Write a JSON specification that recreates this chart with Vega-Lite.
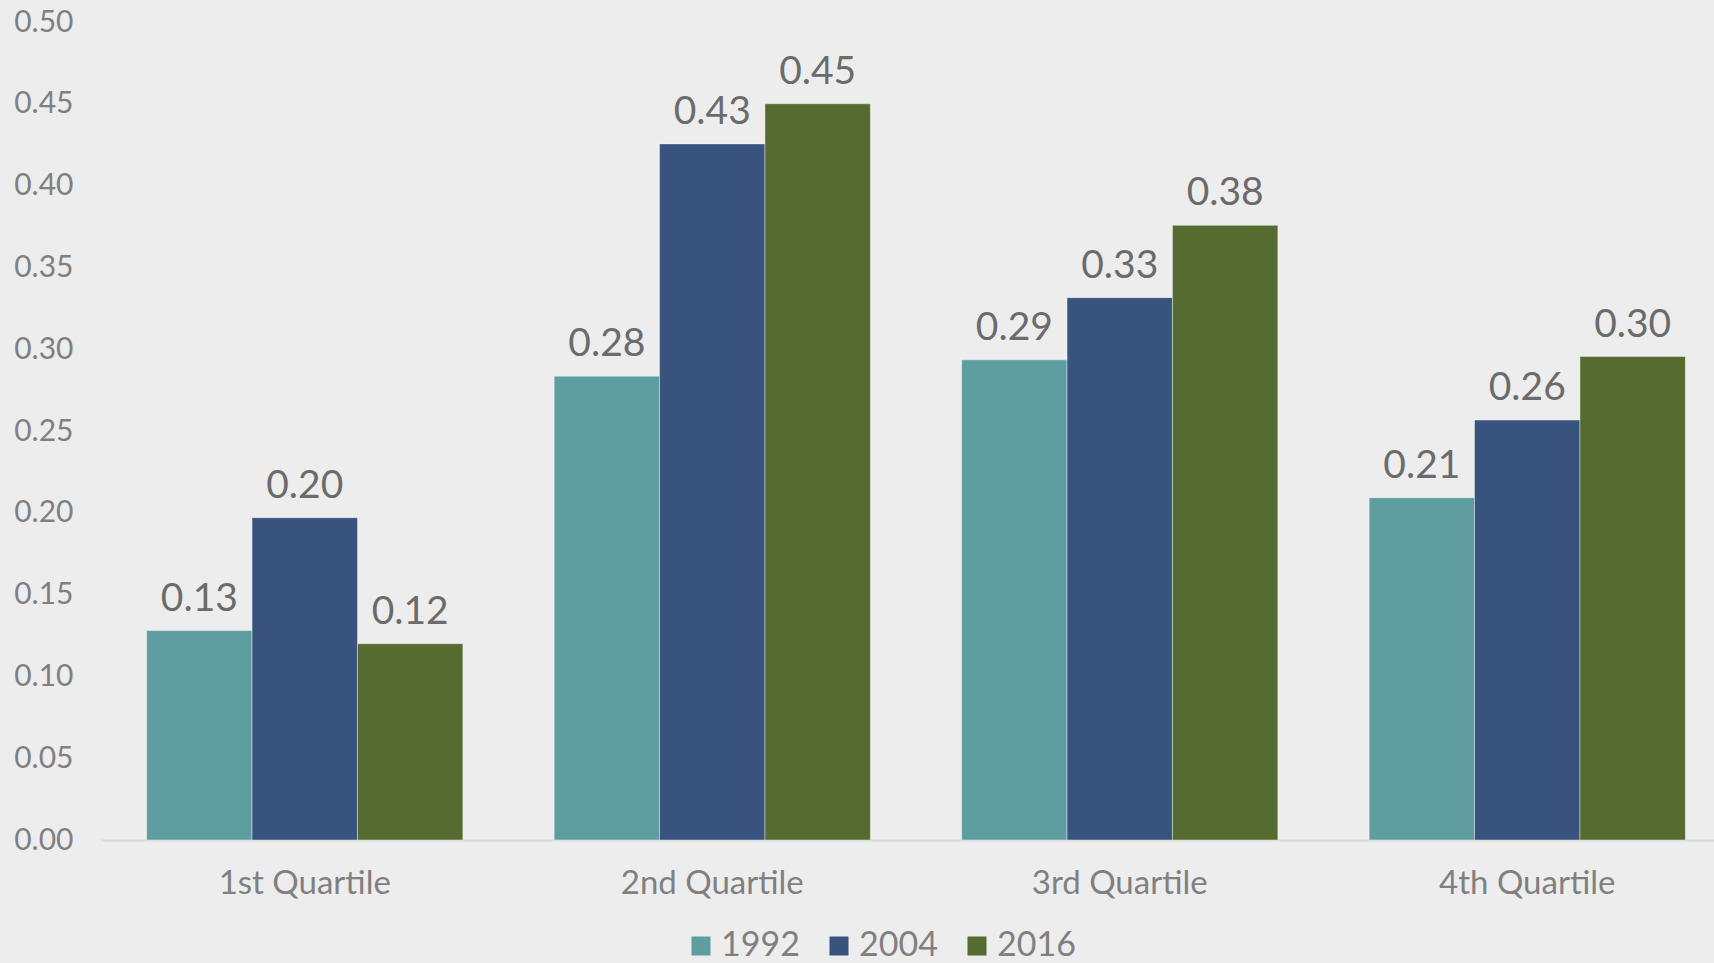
{
  "$schema": "https://vega.github.io/schema/vega-lite/v6.json",
  "autosize": {"type": "none"},
  "width": 1613,
  "height": 818,
  "padding": {"left": 101, "top": 22, "right": 0, "bottom": 123},
  "background": "#EDEDED",
  "config": {
    "view": {"stroke": null},
    "font": "Lato"
  },
  "data": {
    "values": [
      {"quartile": "1st Quartile", "year": "1992", "value": 0.128},
      {"quartile": "1st Quartile", "year": "2004", "value": 0.197},
      {"quartile": "1st Quartile", "year": "2016", "value": 0.12},
      {"quartile": "2nd Quartile", "year": "1992", "value": 0.2835},
      {"quartile": "2nd Quartile", "year": "2004", "value": 0.4255},
      {"quartile": "2nd Quartile", "year": "2016", "value": 0.45},
      {"quartile": "3rd Quartile", "year": "1992", "value": 0.2935},
      {"quartile": "3rd Quartile", "year": "2004", "value": 0.3315},
      {"quartile": "3rd Quartile", "year": "2016", "value": 0.3757},
      {"quartile": "4th Quartile", "year": "1992", "value": 0.2092},
      {"quartile": "4th Quartile", "year": "2004", "value": 0.2567},
      {"quartile": "4th Quartile", "year": "2016", "value": 0.2955}
    ]
  },
  "encoding": {
    "x": {
      "field": "quartile", "type": "nominal",
      "scale": {"range": [0, 1630], "paddingInner": 0.224, "paddingOuter": 0.112},
      "axis": {
        "title": null, "labelAngle": 0, "labelFontSize": 33, "labelColor": "#808080",
        "labelPadding": 27, "ticks": false, "domainColor": "#D9D9D9", "domainWidth": 2,
        "labelLimit": 400
      }
    },
    "xOffset": {"field": "year", "type": "nominal", "scale": {"paddingInner": 0, "paddingOuter": 0}},
    "y": {
      "field": "value", "type": "quantitative",
      "scale": {"domain": [0, 0.5], "nice": false},
      "axis": {
        "title": null, "values": [0, 0.05, 0.1, 0.15, 0.2, 0.25, 0.3, 0.35, 0.4, 0.45, 0.5],
        "format": ".2f", "grid": false, "domain": false, "ticks": false,
        "labelFontSize": 30, "labelColor": "#808080", "labelPadding": 28
      }
    }
  },
  "layer": [
    {
      "mark": {"type": "bar", "stroke": "#ffffff", "strokeWidth": 0.8, "strokeOpacity": 0.5},
      "encoding": {
        "color": {
          "field": "year", "type": "nominal",
          "scale": {"domain": ["1992", "2004", "2016"], "range": ["#5F9EA0", "#37537E", "#556B2F"]},
          "legend": {
            "title": null, "orient": "none", "direction": "horizontal",
            "legendX": 583, "legendY": 907, "padding": 0,
            "symbolType": "square", "symbolSize": 361, "symbolStrokeWidth": 0,
            "labelFontSize": 34, "labelColor": "#808080", "columnPadding": 22, "labelOffset": 3
          }
        }
      }
    },
    {
      "mark": {"type": "text", "baseline": "alphabetic", "dy": -20, "fontSize": 39, "color": "#6B6B6B"},
      "encoding": {
        "text": {"field": "value", "type": "quantitative", "format": ".2f"}
      }
    }
  ]
}
